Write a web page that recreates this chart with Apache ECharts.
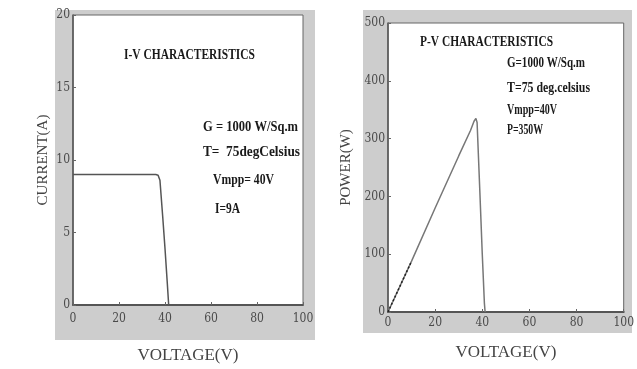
<!DOCTYPE html>
<html><head><meta charset="utf-8">
<script src="https://cdn.jsdelivr.net/npm/echarts@6/dist/echarts.min.js"></script>
<style>html,body{margin:0;padding:0;background:#fff}#c{width:637px;height:369px}</style>
</head><body><div id="c"></div>
<script>
// ---- data ----
const xTicks = [0, 20, 40, 60, 80, 100];
const ivTicks = [0, 5, 10, 15, 20];
const pvTicks = [0, 100, 200, 300, 400, 500];
const ivVoltage = [0, 10, 20, 30, 36, 37, 37.8, 39, 40, 41, 41.6];
const ivCurrent = [9, 9, 9, 9, 9, 8.95, 8.6, 6.1, 3.9, 1.5, 0];
const pvVoltage = [0, 10, 20, 30, 35, 36.5, 37.3, 37.8, 39, 40, 40.9, 41.2];
const pvPower   = [0, 88, 180, 270, 314, 330, 335, 328, 205, 100, 15, 0];
const pvLowVoltage = [0, 10];
const pvLowPower = [0, 88];
const ivTitle = 'I-V CHARACTERISTICS';
const ivNotes = ['G = 1000 W/Sq.m', 'T=  75degCelsius', 'Vmpp= 40V', 'I=9A'];
const pvTitle = 'P-V CHARACTERISTICS';
const pvNotes = ['G=1000 W/Sq.m', 'T=75 deg.celsius', 'Vmpp=40V', 'P=350W'];

const zip = (a, b) => a.map((v, i) => [v, b[i]]);

const chart = echarts.init(document.getElementById('c'), null, {renderer: 'canvas'});

const cv = document.createElement('canvas').getContext('2d');
function fitText(text, x, yc, w, size, weight) {
  const font = (weight || 'bold') + ' ' + size + 'px "Liberation Serif"';
  cv.font = font;
  const mw = cv.measureText(text).width;
  return {
    type: 'text', x: x, y: yc, scaleX: w / mw, z: 50,
    style: {text: text, font: font, fill: '#1a1a1a', textVerticalAlign: 'middle'}
  };
}

const axisLabelStyle = {color: '#4a4a4a', fontFamily: '"DejaVu Serif Condensed", "Liberation Serif"', fontSize: 12};
const nameStyle = {color: '#444', fontFamily: 'Liberation Serif', fontSize: 15};

function xAxis(gi, gap, margin) {
  return {
    type: 'value', gridIndex: gi, min: 0, max: 100, interval: 20,
    name: 'VOLTAGE(V)', nameLocation: 'middle', nameGap: gap,
    nameTextStyle: {color: '#444', fontFamily: 'Liberation Serif', fontSize: 17},
    axisLine: {lineStyle: {color: '#555', width: 2}},
    axisTick: {inside: true, length: 3, lineStyle: {color: '#666'}},
    axisLabel: Object.assign({margin: margin}, axisLabelStyle),
    splitLine: {show: false}
  };
}
function yAxis(gi, name, max, interval, gap) {
  return {
    type: 'value', gridIndex: gi, min: 0, max: max, interval: interval,
    name: name, nameLocation: 'middle', nameGap: gap, nameTextStyle: nameStyle,
    axisLine: {lineStyle: {color: '#555', width: 1.5}},
    axisTick: {inside: true, length: 3, lineStyle: {color: '#666'}},
    axisLabel: Object.assign({margin: 3}, axisLabelStyle),
    splitLine: {show: false}
  };
}

const graphics = [
  {type: 'rect', shape: {x: 55, y: 10, width: 260, height: 330}, style: {fill: '#cdcdcd'}, z: -10},
  {type: 'rect', shape: {x: 363, y: 10, width: 269, height: 323}, style: {fill: '#cdcdcd'}, z: -10},
  fitText(ivTitle, 124, 55, 131, 15),
  fitText(ivNotes[0], 203, 127, 95, 14),
  fitText(ivNotes[1], 203, 152, 97, 14),
  fitText(ivNotes[2], 213, 180, 61, 14),
  fitText(ivNotes[3], 215, 209, 25, 14),
  fitText(pvTitle, 420, 42, 133, 15),
  fitText(pvNotes[0], 507, 63, 78, 14),
  fitText(pvNotes[1], 507, 88, 83, 14),
  fitText(pvNotes[2], 507, 110, 50, 14),
  fitText(pvNotes[3], 507, 130, 36, 14)
];

chart.setOption({
  animation: false,
  grid: [
    {left: 73, top: 15, width: 230, height: 298, show: true, backgroundColor: '#fff', borderColor: '#666', borderWidth: 1},
    {left: 388, top: 23, width: 237, height: 289, show: true, backgroundColor: '#fff', borderColor: '#666', borderWidth: 1}
  ],
  xAxis: [xAxis(0, 42, 8), xAxis(1, 32, 5)],
  yAxis: [yAxis(0, 'CURRENT(A)', 20, 5, 22), yAxis(1, 'POWER(W)', 500, 100, 34)],
  graphic: graphics,
  series: [
    {type: 'line', xAxisIndex: 0, yAxisIndex: 0, data: zip(ivVoltage, ivCurrent), showSymbol: false,
     lineStyle: {color: '#555', width: 1.5}},
    {type: 'line', xAxisIndex: 1, yAxisIndex: 1, data: zip(pvVoltage, pvPower), showSymbol: false,
     lineStyle: {color: '#777', width: 1.5}},
    {type: 'line', xAxisIndex: 1, yAxisIndex: 1, data: zip(pvLowVoltage, pvLowPower), showSymbol: false,
     lineStyle: {color: '#222', width: 1.5, type: [2, 2]}}
  ]
});
</script></body></html>
